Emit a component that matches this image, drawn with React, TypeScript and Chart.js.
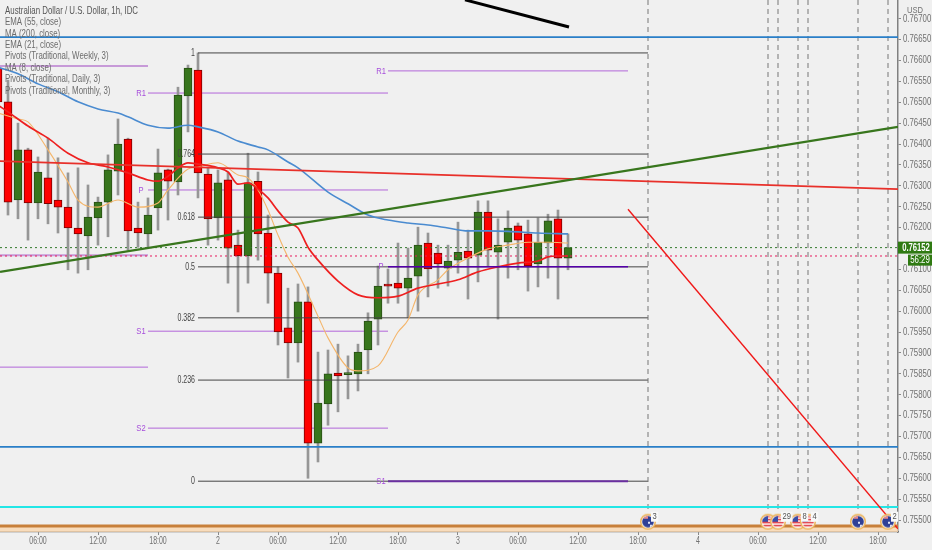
import React, { useEffect, useRef } from "react";
import { Chart, registerables } from "chart.js";

Chart.register(...registerables);

const opens = [.76582,.76501,.76266,.76386,.76259,.76319,.76266,.76249,.76199,.76180,.76223,.76261,.76335,.76412,.76199,.76185,.76247,.76338,.76309,.76515,.76577,.76328,.76223,.76314,.76158,.76132,.76311,.76187,.76091,.75960,.75924,.76022,.75684,.75778,.75852,.75848,.75850,.75907,.75981,.76065,.76067,.76055,.76084,.76163,.76139,.76103,.76122,.76144,.76134,.76237,.76141,.76165,.76204,.76185,.76113,.76163,.76221,.76127];
const highs = [.76601,.76553,.76450,.76390,.76369,.76414,.76367,.76331,.76343,.76302,.76273,.76374,.76460,.76414,.76261,.76271,.76388,.76340,.76536,.76589,.76618,.76343,.76338,.76331,.76194,.76378,.76333,.76230,.76106,.76055,.76065,.76058,.75902,.75907,.75921,.75893,.75921,.75996,.76108,.76101,.76163,.76151,.76201,.76187,.76158,.76158,.76213,.76194,.76264,.76264,.76221,.76240,.76211,.76218,.76223,.76232,.76242,.76185];
const lows = [.76481,.76230,.76221,.76170,.76221,.76209,.76187,.76099,.76091,.76099,.76158,.76178,.76278,.76146,.76153,.76153,.76194,.76218,.76278,.76429,.76271,.76158,.76170,.76067,.75998,.76067,.76122,.76019,.75919,.75840,.75878,.75600,.75639,.75727,.75759,.75790,.75809,.75850,.75919,.76019,.76019,.75984,.76000,.76034,.76055,.76060,.76091,.76029,.76070,.76108,.75981,.76079,.76099,.76048,.76058,.76079,.76029,.76099];
const closes = [.76501,.76261,.76386,.76259,.76333,.76257,.76249,.76199,.76185,.76225,.76261,.76338,.76400,.76192,.76187,.76230,.76331,.76311,.76517,.76582,.76331,.76221,.76307,.76151,.76132,.76307,.76185,.76091,.75950,.75924,.76022,.75684,.75780,.75850,.75845,.75849,.75902,.75976,.76060,.76060,.76055,.76079,.76158,.76101,.76113,.76120,.76141,.76127,.76237,.76146,.76158,.76199,.76170,.76108,.76165,.76216,.76127,.76152];

const ema55Hours = [0,2,4,6,8,10,12,13,15,17,19,20,22,24,26,27,29,30,33,35,37,39,41,43,45,47,49,51,54,57];
const ema55Values = [.76584,.76568,.76544,.76525,.76501,.76484,.76474,.76465,.76445,.76438,.76445,.76441,.76429,.76407,.76393,.76386,.76357,.76343,.76285,.76257,.76230,.76218,.76211,.76206,.76199,.76192,.76192,.76191,.76187,.76185];
const ema21Hours = [0,1,3,5,7,9,11,13,15,16,17,18,19,20,22,23,24,25,26,27,28,29,30,31,32,34,36,38,40,42,44,46,48,50,52,54,55,56,57];
const ema21Values = [.76493,.76477,.76443,.76414,.76378,.76355,.76345,.76331,.76314,.76311,.76323,.76343,.76355,.76352,.76343,.76333,.76304,.76307,.76292,.76271,.76240,.76213,.76199,.76153,.76122,.76072,.76039,.76032,.76036,.76055,.76065,.76075,.76094,.76106,.76115,.76120,.76130,.76132,.76132];
const ma8Hours = [0,2,3,5,7,8,10,12,14,16,17,19,20,22,24,25,26,27,28,29,30,32,33,35,36,38,40,41,42,44,45,47,49,51,53,55,57];
const ma8Values = [.76474,.76460,.76453,.76386,.76309,.76266,.76249,.76266,.76249,.76259,.76290,.76340,.76345,.76355,.76326,.76319,.76290,.76242,.76182,.76129,.76091,.75988,.75936,.75864,.75857,.75869,.75950,.75979,.76039,.76075,.76099,.76127,.76149,.76158,.76165,.76165,.76163];

const fibLevels = ["1", "0.764", "0.618", "0.5", "0.382", "0.236", "0"];
const fibPrices = [.76618,.76376,.76225,.76106,.75984,.75835,.75593];

const leftPivotPrices = [.76587,.76134,.75866];
const midPivotNames = ["R1", "P", "S1", "S2"];
const midPivotPrices = [.76522,.76290,.75952,.75720];
const rightPivotNames = ["R1", "P", "S1"];
const rightPivotPrices = [.76575,.76106,.75593];

const eventHours = [65,77,78,80,81,86,89];
const eventKinds = ["au","us","us","us","us","au","au"];
const eventCounts = ["3","","29","8","4","","2"];

const priceTicks = [.767,.7665,.766,.7655,.765,.7645,.764,.7635,.763,.7625,.762,.7615,.761,.7605,.76,.7595,.759,.7585,.758,.7575,.757,.7565,.756,.7555,.755];
const timeTickHours = [4,10,16,22,28,34,40,46,52,58,64,70,76,82,88];
const timeTickLabels = ["06:00","12:00","18:00","2","06:00","12:00","18:00","3","06:00","12:00","18:00","4","06:00","12:00","18:00"];

const legendLines = ["Australian Dollar / U.S. Dollar, 1h, IDC","EMA (55, close)","MA (200, close)","EMA (21, close)","Pivots (Traditional, Weekly, 3)","MA (8, close)","Pivots (Traditional, Daily, 3)","Pivots (Traditional, Monthly, 3)"];

const lastPrice = .76152;
const prevLevel = .76132;
const countdown = "56:29";

const X_MIN = 0.2, X_MAX = 90, Y_MIN = .754714, Y_MAX = .767447;
const BG = "#f0f0f0";
const FONT = '"Liberation Sans", sans-serif';
const CLEAR = "rgba(0,0,0,0)";

function makeFlag(kind: string): HTMLCanvasElement {
  const c = document.createElement("canvas");
  c.width = 18; c.height = 18;
  const g = c.getContext("2d")!;
  g.fillStyle = "#f6f2ea";
  g.beginPath(); g.arc(9, 9, 7.2, 0, Math.PI * 2); g.fill();
  g.save();
  g.beginPath(); g.arc(9, 9, 5.8, 0, Math.PI * 2); g.clip();
  if (kind === "us") {
    g.fillStyle = "#fff"; g.fillRect(0, 0, 18, 18);
    g.fillStyle = "#e0343c";
    for (let i = 3; i < 17; i += 3) g.fillRect(0, i, 18, 1.5);
    g.fillStyle = "#3a4fa8"; g.fillRect(3, 3, 6, 6);
  } else {
    g.fillStyle = "#2f3f96"; g.fillRect(0, 0, 18, 18);
    g.fillStyle = "#e8868a"; g.fillRect(3, 3, 6, 3);
    g.fillStyle = "#dfe3f5"; g.fillRect(9, 9, 2, 2); g.fillRect(11, 12, 2, 2);
  }
  g.restore();
  g.strokeStyle = "#edb45c"; g.lineWidth = 1.5;
  g.beginPath(); g.arc(9, 9, 7.3, 0, Math.PI * 2); g.stroke();
  return c;
}

function squash(ctx: any, t: string, x: number, y: number, sx: number, align: string) {
  ctx.save();
  ctx.translate(x, y);
  ctx.scale(sx, 1);
  ctx.textAlign = align;
  ctx.fillText(t, 0, 0);
  ctx.restore();
}

function seg(x0: number, y0: number, x1: number, y1: number, color: string, width: number, order: number, extra: any = {}) {
  return {
    type: "line",
    data: [{ x: x0, y: y0 }, { x: x1, y: y1 }],
    borderColor: color, borderWidth: width, pointRadius: 0, order, ...extra,
  };
}

function curve(xs: number[], ys: number[], color: string, width: number, order: number) {
  return {
    type: "line",
    data: xs.map((x, i) => ({ x, y: ys[i] })),
    borderColor: color, borderWidth: width, pointRadius: 0, order,
    cubicInterpolationMode: "monotone",
  };
}

export default function App() {
  const ref = useRef<HTMLCanvasElement>(null);
  useEffect(() => {
    const hours = opens.map((_, i) => i);
    const bodyColors = opens.map((o, i) => (closes[i] >= o ? "#38761d" : "#ff0000"));
    const bodyBorders = opens.map((o, i) => (closes[i] >= o ? "#274e13" : "#7a0000"));

    const textPlugin = {
      id: "texts",
      afterDraw(chart: any) {
        const { ctx, scales: { x, y } } = chart;
        ctx.save();
        ctx.textBaseline = "middle";

        // axis labels
        ctx.fillStyle = "#707070"; ctx.font = `10.5px ${FONT}`;
        y.ticks.forEach((t: any) => squash(ctx, t.label, 903, y.getPixelForValue(t.value), 0.745, "left"));
        ctx.font = `10px ${FONT}`;
        x.ticks.forEach((t: any) => squash(ctx, t.label, x.getPixelForValue(t.value), 541.5, 0.7, "center"));

        ctx.font = `10px ${FONT}`; ctx.fillStyle = "#444";
        fibLevels.forEach((t, i) => squash(ctx, t, x.getPixelForValue(20) - 3, y.getPixelForValue(fibPrices[i]), 0.7, "right"));

        ctx.fillStyle = "#a64ddb"; ctx.font = `9.5px ${FONT}`;
        midPivotNames.forEach((t, i) => squash(ctx, t, x.getPixelForValue(14.3), y.getPixelForValue(midPivotPrices[i]), 0.8, "center"));
        rightPivotNames.forEach((t, i) => squash(ctx, t, x.getPixelForValue(38.3), y.getPixelForValue(rightPivotPrices[i]), 0.8, "center"));

        ctx.font = `10.5px ${FONT}`;
        legendLines.forEach((t, i) => {
          ctx.fillStyle = i === 0 ? "#555" : "#6c6c6c";
          squash(ctx, t, 5, 11 + i * 11.4, 0.75, "left");
        });

        const flagY = y.getPixelForValue(.75496);
        ctx.font = `9.5px ${FONT}`;
        eventCounts.forEach((t, i) => {
          if (!t) return;
          const px = x.getPixelForValue(eventHours[i]) + 3;
          const w = ctx.measureText(t).width * 0.8 + 3;
          ctx.fillStyle = "#f8f8f8"; ctx.fillRect(px, flagY - 10, w, 10);
          ctx.fillStyle = "#555"; squash(ctx, t, px + 1.5, flagY - 5, 0.8, "left");
        });

        ctx.fillStyle = "#2f7a12";
        const py = y.getPixelForValue(lastPrice);
        ctx.fillRect(898, py - 6, 34, 12);
        ctx.fillRect(908, py + 7, 24, 11);
        ctx.fillStyle = "#fff"; ctx.font = `bold 10.5px ${FONT}`;
        squash(ctx, lastPrice.toFixed(5), 916, py, 0.73, "center");
        ctx.font = `10.5px ${FONT}`;
        squash(ctx, countdown, 920, py + 12.5, 0.75, "center");

        ctx.fillStyle = "#707070"; ctx.font = `9.5px ${FONT}`;
        squash(ctx, "USD", 915, 10, 0.8, "center");
        ctx.restore();
      },
    };

    const datasets: any[] = [
      // pivot levels (lowest layer)
      ...leftPivotPrices.map((p, i) => seg(X_MIN, p, 15, p, i === 2 ? "#b266d9" : "#c79ad8", i === 2 ? 1 : 2, 40)),
      ...midPivotPrices.map((p) => seg(15, p, 39, p, "#b266d9", 1, 40)),
      seg(39, rightPivotPrices[0], 63, rightPivotPrices[0], "#b266d9", 1, 40),
      seg(39, rightPivotPrices[1], 63, rightPivotPrices[1], "#5500aa", 1.5, 3),
      seg(39, rightPivotPrices[2], 63, rightPivotPrices[2], "#6a2fa0", 2, 3),
      // candles
      {
        type: "bar", order: 31, barThickness: 2, grouped: false,
        data: hours.map((h, i) => ({ x: h, y: [lows[i], highs[i]] })),
        backgroundColor: "#969696", borderWidth: 0,
      },
      {
        type: "bar", order: 30, barThickness: 8, grouped: false, minBarLength: 2,
        data: hours.map((h, i) => ({ x: h, y: [opens[i], closes[i]] })),
        backgroundColor: bodyColors, borderColor: bodyBorders, borderWidth: 1, borderSkipped: false,
      },
      // fibonacci levels
      ...fibPrices.map((p) => seg(20, p, 65, p, "#444", 1, 20)),
      // moving averages
      curve(ema55Hours, ema55Values, "#4a8bd0", 1.6, 10),
      curve(ma8Hours, ma8Values, "#f4b56a", 1.1, 9),
      curve(ema21Hours, ema21Values, "#ee2020", 1.7, 8),
      // drawn lines
      seg(X_MIN, .76094, X_MAX, .76441, "#38761d", 2.4, 5),
      seg(X_MIN, .76359, X_MAX, .76292, "#e8302a", 1.8, 6),
      seg(46.7, .76745, 57.1, .76680, "#000", 3, 5),
      seg(63, .76244, X_MAX, .75479, "#f01818", 1.4, 5),
      seg(X_MIN, .76656, X_MAX, .76656, "#2a7fc8", 1.8, 7),
      seg(X_MIN, .75675, X_MAX, .75675, "#2a7fc8", 1.8, 7),
      seg(X_MIN, .75531, X_MAX, .75531, "#22e6e6", 2, 7),
      seg(X_MIN, .75477, X_MAX, .75477, "rgba(250,215,175,.8)", 9, 8),
      seg(X_MIN, .75486, X_MAX, .75486, "#c8803a", 3, 6),
      seg(X_MIN, lastPrice, X_MAX, lastPrice, "#2f7a2a", 1, 7, { borderDash: [2, 3] }),
      seg(X_MIN, prevLevel, X_MAX, prevLevel, "#e8185c", 1, 7, { borderDash: [2, 3] }),
      // event markers
      ...eventHours.map((h) => seg(h, Y_MAX, h, .75519, "#777", 1, 12, { borderDash: [5, 4] })),
      {
        type: "line", order: 1, showLine: false, clip: false,
        data: eventHours.map((h) => ({ x: h, y: .75496 })),
        pointStyle: eventKinds.map(makeFlag), pointRadius: 9,
      },
    ];

    const chart = new Chart(ref.current!, {
      type: "bar",
      data: { datasets },
      options: {
        animation: false, responsive: false,
        layout: { padding: 0, autoPadding: false },
        plugins: { legend: { display: false }, tooltip: { enabled: false } },
        scales: {
          x: {
            type: "linear", min: X_MIN, max: X_MAX, offset: false,
            afterFit(s: any) { s.height = 18; s.paddingLeft = 0; s.paddingRight = 0; },
            afterBuildTicks(s: any) { s.ticks = timeTickHours.map((value) => ({ value })); },
            grid: { offset: false, drawOnChartArea: false, drawTicks: true, tickLength: 3, color: "#888" },
            border: { display: true, color: "#707070", width: 1.2 },
            ticks: {
              autoSkip: false, maxRotation: 0, color: CLEAR, padding: 1,
              font: { family: FONT, size: 9 },
              callback: (v: any) => timeTickLabels[timeTickHours.indexOf(v)] ?? "",
            },
          },
          y: {
            type: "linear", position: "right", min: Y_MIN, max: Y_MAX,
            afterFit(s: any) { s.width = 34; s.paddingTop = 0; s.paddingBottom = 0; },
            afterBuildTicks(s: any) { s.ticks = priceTicks.map((value) => ({ value })); },
            grid: { drawOnChartArea: false, drawTicks: true, tickLength: 3, color: "#888" },
            border: { display: true, color: "#808080", width: 1.5 },
            ticks: {
              autoSkip: false, color: CLEAR, padding: 2,
              font: { family: FONT, size: 9 },
              callback: (v: any) => Number(v).toFixed(5),
            },
          },
        },
      } as any,
      plugins: [textPlugin],
    } as any);
    return () => chart.destroy();
  }, []);

  return (
    <div style={{ position: "fixed", left: 0, top: 0, width: 932, height: 550, background: BG, overflow: "hidden" }}>
      <canvas ref={ref} width={932} height={550} style={{ display: "block", width: 932, height: 550 }} />
    </div>
  );
}
